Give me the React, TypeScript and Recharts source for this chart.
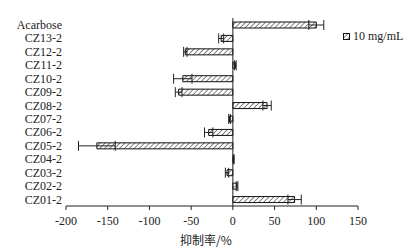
import React from "react";
import {
  Bar,
  BarChart,
  ErrorBar,
  ReferenceLine,
  XAxis,
  YAxis,
} from "recharts";

const CATEGORIES = [
  "Acarbose", "CZ13-2", "CZ12-2", "CZ11-2", "CZ10-2", "CZ09-2", "CZ08-2",
  "CZ07-2", "CZ06-2", "CZ05-2", "CZ04-2", "CZ03-2", "CZ02-2", "CZ01-2",
];
const VALUES = [100, -14, -57, 3, -60, -65, 41, -4, -29, -163, 1, -7, 5, 74];
const ERRORS = [9, 3, 2, 1, 11, 4, 5, 1, 5, 22, 0.5, 2, 1, 8];
const X_TICKS = [-200, -150, -100, -50, 0, 50, 100, 150];
const SERIES_NAME = "10 mg/mL";

const data = CATEGORIES.map((name, i) => ({ name, value: VALUES[i], err: ERRORS[i] }));

const SERIF = "'Liberation Serif', 'DejaVu Serif', serif";
const tickStyle = { fill: "#222", fontSize: 12, fontFamily: SERIF };

function Hatch() {
  return (
    <svg width={0} height={0} style={{ position: "absolute" }}>
      <defs>
        <pattern id="hatch" width={3.5} height={3.5} patternUnits="userSpaceOnUse" patternTransform="rotate(45)">
          <rect width={3.5} height={3.5} fill="#fff" />
          <line x1={0} y1={0} x2={0} y2={3.5} stroke="#444" strokeWidth={1.3} />
        </pattern>
      </defs>
    </svg>
  );
}

export default function App() {
  return (
    <div style={{ position: "fixed", left: 0, top: 0, width: 416, height: 249, background: "#fff" }}>
      <Hatch />
      <BarChart
        width={416}
        height={249}
        data={data}
        layout="vertical"
        margin={{ top: 18, right: 58, left: 6, bottom: 12 }}
        barCategoryGap={0}
      >
        <XAxis
          type="number"
          domain={[-200, 150]}
          ticks={X_TICKS}
          tick={tickStyle}
          tickSize={4}
          tickMargin={6}
          stroke="#222"
          height={31}
          label={{
            value: "抑制率/%",
            position: "insideBottom",
            offset: -8,
            dx: -6,
            fill: "#222",
            fontSize: 12,
            fontFamily: "'Noto Sans CJK SC', sans-serif",
          }}
        />
        <YAxis
          type="category"
          dataKey="name"
          width={60}
          axisLine={false}
          tickLine={false}
          tickSize={0}
          tickMargin={4}
          tick={tickStyle}
          interval={0}
        />
        <ReferenceLine x={0} stroke="#222" strokeWidth={1} />
        <Bar
          dataKey="value"
          name={SERIES_NAME}
          barSize={6}
          fill="url(#hatch)"
          stroke="#111"
          strokeWidth={1}
          isAnimationActive={false}
        >
          <ErrorBar dataKey="err" direction="x" width={5} stroke="#222" strokeWidth={1} />
        </Bar>
      </BarChart>
      <div
        style={{
          position: "absolute",
          left: 343,
          top: 29,
          display: "flex",
          alignItems: "center",
          fontFamily: SERIF,
          fontSize: 12,
          color: "#222",
        }}
      >
        <svg width={7} height={7} style={{ marginRight: 3 }}>
          <rect x={0.5} y={0.5} width={6} height={6} fill="url(#hatch)" stroke="#111" strokeWidth={1} />
        </svg>
        {SERIES_NAME}
      </div>
    </div>
  );
}
